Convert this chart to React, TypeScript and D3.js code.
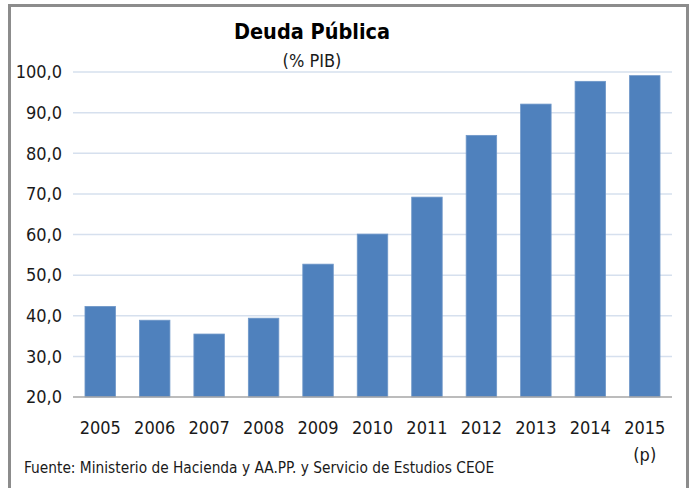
import React, { useEffect, useRef } from 'react'
import * as d3 from 'd3'

const years = ['2005', '2006', '2007', '2008', '2009', '2010', '2011', '2012', '2013', '2014', '2015']
const debt = [42.3, 38.9, 35.5, 39.4, 52.7, 60.1, 69.2, 84.4, 92.1, 97.7, 99.1]
const yTicks = [20, 30, 40, 50, 60, 70, 80, 90, 100]

const App: React.FC = () => {
  const svgRef = useRef<SVGSVGElement | null>(null)

  useEffect(() => {
    document.body.style.margin = '0'
    if (!svgRef.current) return
    const svg = d3.select(svgRef.current)
    svg.selectAll('*').remove()

    const width = 693
    const height = 488
    const margin = { top: 72, right: 21, bottom: 91, left: 73 }
    const font = "'Liberation Sans Narrow', 'DejaVu Sans Condensed', sans-serif"

    svg.attr('width', width).attr('height', height).style('font-family', font)

    svg.append('rect').attr('width', width).attr('height', height).attr('fill', '#fff')

    // outer frame (bottom cut off in the original)
    svg
      .append('path')
      .attr('d', `M9.5,${height} V5.5 H687.5 V${height}`)
      .attr('fill', 'none')
      .attr('stroke', '#8c8c8c')
      .attr('stroke-width', 3)

    const x = d3
      .scaleBand()
      .domain(years)
      .range([margin.left, width - margin.right])
      .paddingInner(0.44)
      .paddingOuter(0.22)

    const y = d3
      .scaleLinear()
      .domain([20, 100])
      .range([height - margin.bottom, margin.top])

    // gridlines
    svg
      .append('g')
      .selectAll('line')
      .data(yTicks.filter(d => d > 20))
      .join('line')
      .attr('x1', margin.left)
      .attr('x2', width - margin.right)
      .attr('y1', d => y(d))
      .attr('y2', d => y(d))
      .attr('stroke', '#d6e0ee')
      .attr('stroke-width', 1.5)

    svg
      .append('g')
      .selectAll('rect')
      .data(debt)
      .join('rect')
      .attr('x', (d, i) => x(years[i])!)
      .attr('y', d => y(d))
      .attr('width', x.bandwidth())
      .attr('height', d => y(20) - y(d))
      .attr('fill', '#4f81bd')
      .attr('stroke', '#6f97c8')
      .attr('stroke-width', 0.8)

    // base axis line
    svg
      .append('line')
      .attr('x1', margin.left)
      .attr('x2', width - margin.right)
      .attr('y1', y(20))
      .attr('y2', y(20))
      .attr('stroke', '#a6a6a6')
      .attr('stroke-width', 1.5)

    // y labels
    svg
      .append('g')
      .attr('text-anchor', 'end')
      .selectAll('text')
      .data(yTicks)
      .join('text')
      .attr('x', 62)
      .attr('y', d => y(d))
      .attr('dy', '0.35em')
      .attr('font-size', 18)
      .attr('fill', '#1a1a1a')
      .text(d => d3.format('.1f')(d).replace('.', ','))

    // x labels
    svg
      .append('g')
      .attr('text-anchor', 'middle')
      .selectAll('text')
      .data(years)
      .join('text')
      .attr('x', d => x(d)! + x.bandwidth() / 2)
      .attr('y', 434)
      .attr('font-size', 18)
      .attr('fill', '#1a1a1a')
      .text(d => d)

    svg
      .append('text')
      .attr('x', x('2015')! + x.bandwidth() / 2)
      .attr('y', 461)
      .attr('text-anchor', 'middle')
      .attr('font-size', 18)
      .attr('fill', '#1a1a1a')
      .text('(p)')

    svg
      .append('text')
      .attr('x', 312)
      .attr('y', 39)
      .attr('text-anchor', 'middle')
      .attr('font-size', 21.5)
      .attr('font-weight', 'bold')
      .attr('fill', '#000')
      .text('Deuda Pública')

    svg
      .append('text')
      .attr('x', 312)
      .attr('y', 67)
      .attr('text-anchor', 'middle')
      .attr('font-size', 18)
      .attr('fill', '#1a1a1a')
      .text('(% PIB)')

    svg
      .append('text')
      .attr('x', 24)
      .attr('y', 473)
      .attr('font-size', 15.3)
      .attr('fill', '#1a1a1a')
      .text('Fuente: Ministerio de Hacienda y AA.PP. y Servicio de Estudios CEOE')
  }, [])

  return <svg ref={svgRef} style={{ display: 'block' }}></svg>
}

export default App
